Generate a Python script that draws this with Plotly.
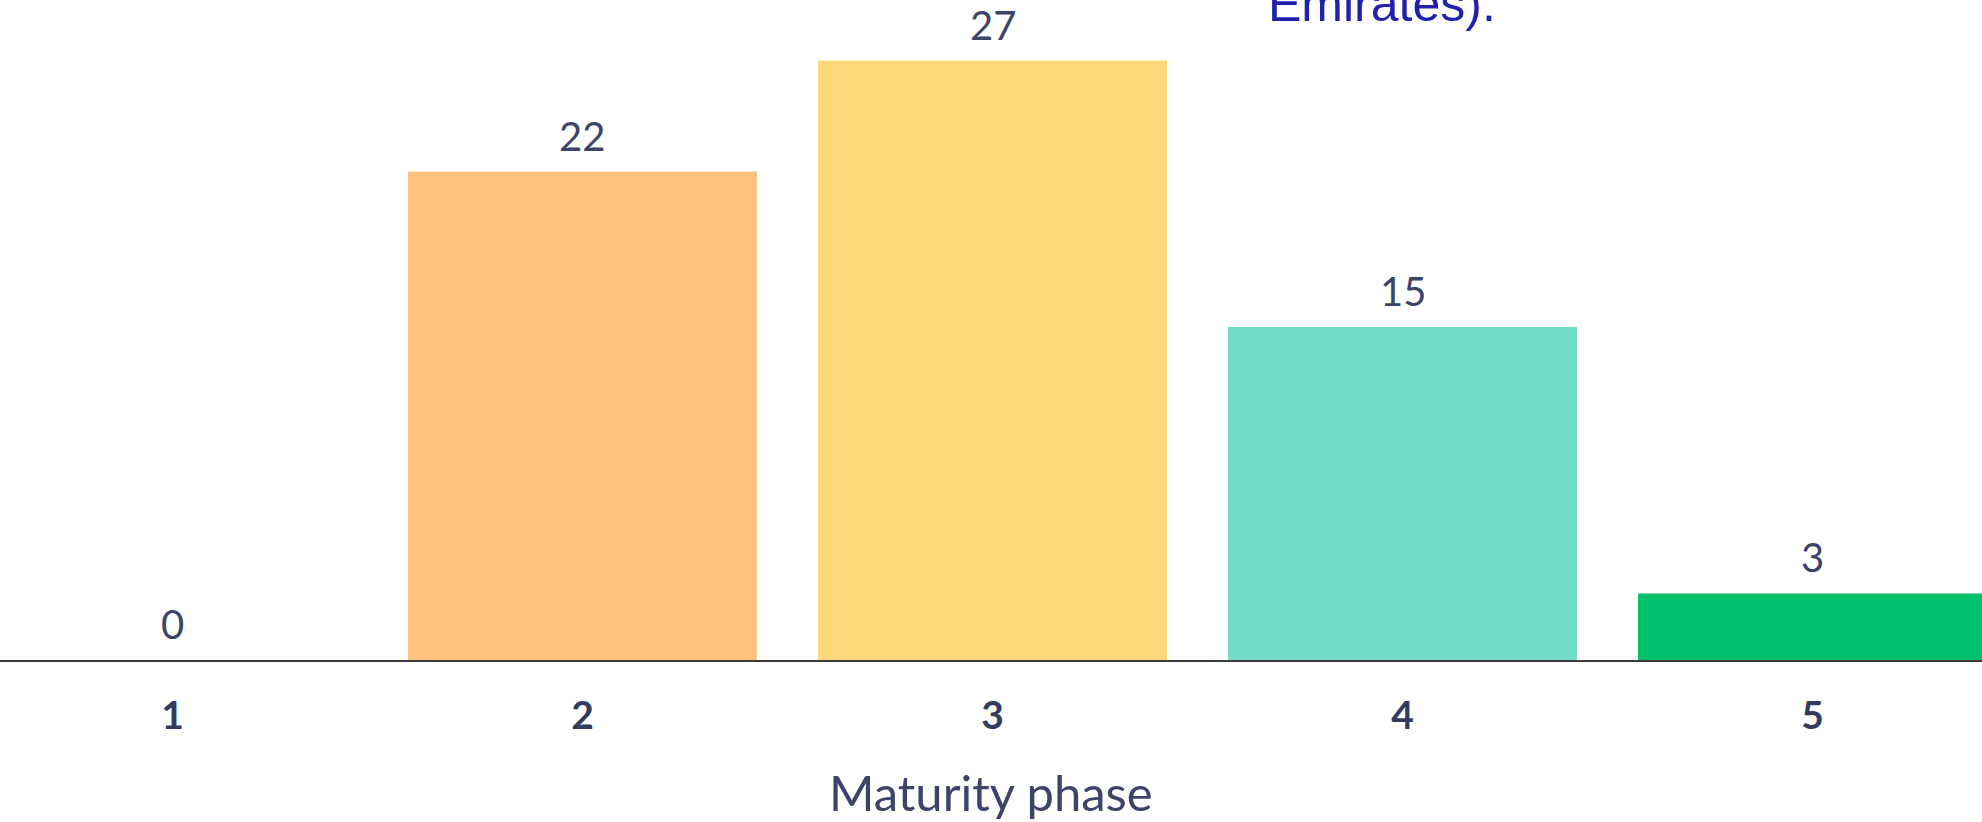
import plotly.graph_objects as go

categories = ["1", "2", "3", "4", "5"]
values = [0, 22, 27, 15, 3]
bar_colors = ["#FDC37E", "#FDC37E", "#FED97B", "#72DCC6", "#00C06B"]
x_title = "Maturity phase"
overlay_text = "Emirates)."

fig = go.Figure()
fig.add_trace(go.Bar(
    x=categories, y=values,
    marker=dict(color=bar_colors, line=dict(width=0)),
    hoverinfo="skip",
))

for i, v in enumerate(values):
    fig.add_annotation(
        x=i, y=v, xref="x", yref="y", text=str(v), showarrow=False,
        yanchor="middle", yshift=36,
        font=dict(family="Lato", size=40, color="#3E4468"),
    )

fig.add_annotation(
    x=1266 / 1982, y=1.0, xref="paper", yref="paper", text=overlay_text, showarrow=False,
    xanchor="left", yanchor="middle", yshift=-4,
    font=dict(family="Liberation Sans", size=50, color="#2121AE"),
)

# x-axis title placed below tick labels
fig.add_annotation(
    x=0.5, y=-0.200, xref="paper", yref="paper", text=x_title, showarrow=False,
    xanchor="center", yanchor="middle",
    font=dict(family="Lato", size=49, color="#3E4468"),
)

fig.update_layout(
    width=1982, height=822,
    margin=dict(l=0, r=0, t=0, b=162, autoexpand=False),
    plot_bgcolor="white", paper_bgcolor="white",
    bargap=0.149,
    showlegend=False,
    xaxis=dict(
        type="category",
        range=[-0.4207, 4.4134],
        automargin=False,
        showline=True, linecolor="#3A3A3A", linewidth=2,
        showgrid=False, zeroline=False,
        ticks="outside", ticklen=20, tickcolor="rgba(0,0,0,0)",
        tickfont=dict(family="Lato", size=39, color="#343B5E", weight="bold"),
    ),
    yaxis=dict(
        range=[0, 29.73], visible=False, showgrid=False, zeroline=False,
    ),
)

fig.write_html("out.html")
